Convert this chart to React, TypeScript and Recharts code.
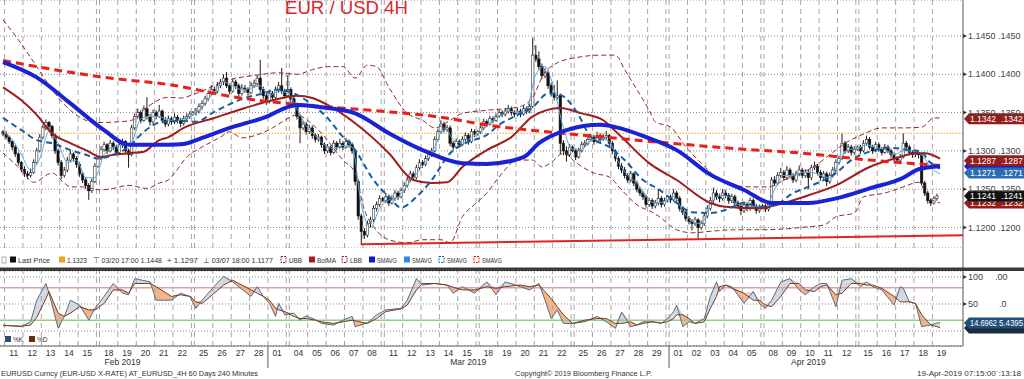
import React from 'react';
import { ComposedChart, Bar, Line, Area, XAxis, YAxis, CartesianGrid, ReferenceLine } from 'recharts';

type OHLC = [number, number, number, number];

const FONT = "'Liberation Sans', Arial, Helvetica, sans-serif";

// ---------- time axis (slot = one 4H bar; Sunday = one bar) ----------
const dayLabels = ['11','12','13','14','15','18','19','20','21','22','25','26','27','28','01','04','05','06','07','08','11','12','13','14','15','18','19','20','21','22','25','26','27','28','29','01','02','03','04','05','08','09','10','11','12','15','16','17','18','19'];
const dayStarts = [1,7,13,19,25,32,38,44,50,56,63,69,75,81,87,94,100,106,112,118,125,131,137,143,149,156,162,168,174,180,187,193,199,205,211,218,224,230,236,242,249,255,261,267,273,280,286,292,298,304];
const fridayEnds = [31,62,93,124,155,186,217,248,279];
const monthLabels = ['Feb 2019','Mar 2019','Apr 2019'];
const monthSlots = [39.5, 152.4, 263.5];
const monthBreaks = [87, 218];

// ---------- price bars, pips of 1.1xxx : [open, high, low, close] ----------
const weekFeb10: OHLC[] = [
  [1325,1327,1319,1322],[1322,1326,1315,1318],[1318,1320,1309,1312],[1312,1314,1301,1305],[1305,1308,1292,1296],[1296,1298,1281,1285],
  [1285,1287,1272,1276],[1276,1280,1266,1270],[1270,1274,1263,1268],[1268,1277,1265,1272],[1272,1289,1270,1285],[1285,1304,1283,1300],
  [1300,1322,1298,1318],[1318,1334,1315,1330],[1330,1341,1327,1337],[1337,1339,1328,1332],[1332,1334,1316,1320],[1320,1323,1296,1300],
  [1300,1303,1281,1285],[1285,1288,1263,1268],[1268,1279,1265,1275],[1275,1292,1272,1288],[1288,1301,1285,1296],[1296,1298,1286,1290],
  [1290,1293,1278,1282],[1282,1285,1266,1270],[1270,1273,1258,1262],[1262,1266,1250,1255],[1255,1258,1236,1248],[1248,1264,1245,1260],
  [1260,1284,1258,1280],
];
const weekFeb17: OHLC[] = [
  [1280,1293,1278,1290],[1290,1306,1288,1302],[1302,1312,1299,1308],[1308,1310,1296,1300],[1300,1314,1298,1310],[1310,1313,1301,1305],
  [1305,1308,1294,1298],[1298,1312,1296,1308],[1308,1316,1304,1312],[1312,1314,1296,1300],[1300,1303,1278,1295],[1295,1334,1293,1330],
  [1330,1349,1327,1345],[1345,1355,1342,1350],[1350,1353,1336,1340],[1340,1359,1338,1355],[1355,1370,1341,1345],[1345,1348,1333,1338],
  [1338,1354,1335,1350],[1350,1353,1341,1345],[1345,1360,1343,1352],[1352,1354,1336,1340],[1340,1344,1331,1335],[1335,1346,1332,1342],
  [1342,1345,1334,1338],[1338,1349,1335,1344],[1344,1347,1336,1340],[1340,1343,1331,1336],[1336,1346,1333,1342],[1342,1349,1339,1345],
  [1345,1352,1342,1348],
];
const weekFeb24: OHLC[] = [
  [1348,1352,1346,1350],[1350,1356,1346,1352],[1352,1362,1349,1358],[1358,1366,1354,1362],[1362,1372,1359,1368],[1368,1379,1365,1375],
  [1375,1386,1372,1380],[1380,1384,1374,1378],[1378,1390,1375,1385],[1385,1394,1382,1390],[1390,1400,1386,1395],[1395,1403,1382,1385],
  [1385,1388,1374,1378],[1378,1394,1376,1390],[1390,1393,1381,1385],[1385,1388,1371,1375],[1375,1387,1372,1382],[1382,1386,1376,1380],
  [1380,1383,1372,1376],[1376,1390,1374,1385],[1385,1393,1382,1388],[1388,1399,1385,1395],[1395,1419,1376,1380],[1380,1384,1368,1372],
  [1372,1375,1360,1365],[1365,1380,1362,1375],[1375,1378,1365,1370],[1370,1384,1367,1380],[1380,1390,1376,1385],[1385,1408,1374,1378],
  [1378,1381,1368,1372],
];
const weekMar3: OHLC[] = [
  [1372,1399,1370,1380],[1380,1383,1364,1368],[1368,1371,1356,1360],[1360,1363,1341,1345],[1345,1348,1310,1330],[1330,1339,1327,1335],
  [1335,1338,1321,1325],[1325,1334,1322,1330],[1330,1333,1316,1320],[1320,1323,1311,1315],[1315,1322,1312,1318],[1318,1320,1304,1308],
  [1308,1311,1296,1300],[1300,1309,1297,1305],[1305,1307,1294,1298],[1298,1314,1296,1310],[1310,1313,1301,1305],[1305,1316,1303,1310],
  [1310,1313,1301,1305],[1305,1317,1303,1312],[1312,1315,1304,1308],[1308,1311,1296,1300],[1300,1302,1255,1260],[1260,1263,1210,1215],
  [1215,1218,1177,1195],[1195,1199,1185,1190],[1190,1209,1187,1205],[1205,1214,1200,1210],[1210,1229,1207,1225],[1225,1234,1221,1230],
  [1230,1242,1227,1238],
];
const weekMar10: OHLC[] = [
  [1238,1240,1233,1235],[1235,1245,1232,1240],[1240,1243,1228,1232],[1232,1242,1230,1238],[1238,1249,1235,1245],[1245,1248,1236,1240],
  [1240,1252,1238,1248],[1248,1259,1245,1255],[1255,1266,1252,1262],[1262,1274,1259,1270],[1270,1273,1261,1265],[1265,1282,1263,1278],
  [1278,1289,1275,1285],[1285,1288,1278,1282],[1282,1294,1280,1290],[1290,1299,1287,1295],[1295,1304,1292,1300],[1300,1319,1298,1315],
  [1315,1329,1312,1325],[1325,1340,1322,1335],[1335,1338,1324,1328],[1328,1334,1325,1330],[1330,1333,1306,1310],[1310,1313,1301,1305],
  [1305,1316,1303,1312],[1312,1315,1304,1308],[1308,1319,1306,1315],[1315,1324,1312,1320],[1320,1323,1308,1312],[1312,1329,1310,1325],
  [1325,1328,1318,1322],
];
const weekMar17: OHLC[] = [
  [1322,1327,1320,1325],[1325,1334,1322,1330],[1330,1342,1327,1338],[1338,1341,1331,1335],[1335,1346,1333,1342],[1342,1345,1336,1340],
  [1340,1349,1338,1345],[1345,1354,1343,1350],[1350,1353,1344,1348],[1348,1356,1345,1352],[1352,1360,1349,1355],[1355,1358,1346,1350],
  [1350,1353,1344,1348],[1348,1356,1345,1352],[1352,1355,1344,1348],[1348,1359,1346,1355],[1355,1358,1348,1352],[1352,1362,1349,1358],
  [1358,1448,1356,1425],[1425,1438,1416,1420],[1420,1430,1406,1410],[1410,1414,1394,1398],[1398,1408,1395,1402],[1402,1405,1381,1385],
  [1385,1389,1371,1375],[1375,1386,1366,1370],[1370,1392,1367,1372],[1372,1375,1296,1310],[1310,1314,1294,1300],[1300,1306,1286,1295],
  [1295,1309,1292,1305],
];
const weekMar24: OHLC[] = [
  [1305,1307,1298,1300],[1300,1303,1288,1292],[1292,1304,1290,1300],[1300,1312,1298,1308],[1308,1314,1305,1310],[1310,1319,1307,1315],
  [1315,1322,1312,1318],[1318,1321,1308,1312],[1312,1325,1310,1320],[1320,1323,1311,1315],[1315,1322,1313,1318],[1318,1326,1315,1320],
  [1320,1322,1306,1310],[1310,1313,1296,1300],[1300,1302,1286,1290],[1290,1293,1276,1280],[1280,1284,1271,1275],[1275,1279,1264,1268],
  [1268,1271,1258,1262],[1262,1274,1259,1270],[1270,1272,1254,1258],[1258,1261,1246,1250],[1250,1253,1241,1245],[1245,1248,1236,1240],
  [1240,1243,1226,1230],[1230,1239,1227,1235],[1235,1238,1224,1228],[1228,1236,1225,1232],[1232,1250,1229,1238],[1238,1241,1226,1230],
  [1230,1239,1227,1235],
];
const weekMar31: OHLC[] = [
  [1235,1242,1233,1240],[1240,1243,1232,1236],[1236,1250,1234,1245],[1245,1248,1234,1238],[1238,1241,1221,1225],[1225,1228,1216,1220],
  [1220,1223,1208,1212],[1212,1215,1204,1208],[1208,1211,1196,1205],[1205,1214,1202,1210],[1210,1212,1186,1200],[1200,1209,1197,1205],
  [1205,1219,1202,1215],[1215,1229,1212,1225],[1225,1240,1222,1235],[1235,1252,1232,1245],[1245,1249,1236,1240],[1240,1244,1233,1238],
  [1238,1250,1235,1245],[1245,1249,1238,1242],[1242,1245,1231,1235],[1235,1244,1232,1240],[1240,1243,1228,1232],[1232,1235,1224,1228],
  [1228,1231,1216,1222],[1222,1234,1219,1230],[1230,1233,1221,1225],[1225,1239,1222,1235],[1235,1238,1224,1228],[1228,1231,1218,1222],
  [1222,1230,1219,1226],
];
const weekApr7: OHLC[] = [
  [1226,1231,1224,1228],[1228,1231,1220,1224],[1224,1234,1221,1230],[1230,1266,1228,1262],[1262,1267,1254,1258],[1258,1272,1255,1268],
  [1268,1278,1265,1272],[1272,1275,1261,1265],[1265,1280,1262,1275],[1275,1278,1264,1268],[1268,1271,1258,1262],[1262,1274,1259,1270],
  [1270,1281,1267,1275],[1275,1278,1264,1268],[1268,1276,1265,1272],[1272,1275,1250,1265],[1265,1282,1262,1278],[1278,1286,1275,1280],
  [1280,1283,1268,1272],[1272,1275,1261,1265],[1265,1274,1262,1270],[1270,1273,1254,1260],[1260,1272,1257,1268],[1268,1279,1265,1275],
  [1275,1289,1272,1285],[1285,1294,1282,1290],[1290,1323,1288,1310],[1310,1313,1296,1300],[1300,1309,1297,1305],[1305,1308,1294,1298],
  [1298,1306,1295,1302],
];
const weekApr14: OHLC[] = [
  [1302,1307,1300,1305],[1305,1308,1296,1300],[1300,1314,1298,1310],[1310,1320,1307,1315],[1315,1318,1302,1305],[1305,1308,1296,1300],
  [1300,1312,1298,1308],[1308,1311,1299,1302],[1302,1305,1294,1298],[1298,1309,1296,1305],[1305,1308,1297,1300],[1300,1303,1291,1295],
  [1295,1298,1286,1290],[1290,1293,1284,1288],[1288,1296,1285,1292],[1292,1323,1290,1310],[1310,1313,1301,1305],[1305,1308,1294,1298],
  [1298,1301,1291,1295],[1295,1302,1292,1298],[1298,1301,1290,1295],[1295,1297,1255,1258],[1258,1261,1241,1245],[1245,1248,1231,1235],
  [1235,1238,1228,1232],[1232,1241,1230,1238],[1238,1244,1235,1241],
];

const smaRedDashed = [[0,1418],[33,1396],[55,1386],[76,1370],[98,1360],[120,1353],[141,1345],[163,1331],[170,1328],[196,1318],[218,1310],[239,1303],[261,1297],[283,1288],[306,1281]];
const smaBlueThick = [[0,1416],[11,1396],[22,1362],[33,1327],[41,1308],[54,1308],[59,1309],[65,1317],[74,1330],[85,1343],[96,1360],[106,1356],[115,1349],[126,1323],[137,1301],[150,1284],[158,1283],[170,1292],[175,1310],[184,1327],[195,1334],[200,1331],[210,1318],[220,1301],[231,1269],[242,1249],[251,1232],[263,1232],[272,1238],[283,1251],[294,1265],[299,1276],[306,1280]];
const bolMA = [[0,1383],[6,1366],[11,1347],[16,1323],[22,1310],[27,1301],[32,1292],[36,1295],[41,1297],[46,1299],[51,1314],[54,1318],[59,1330],[69,1343],[79,1356],[88,1366],[96,1372],[101,1369],[106,1360],[115,1336],[126,1297],[134,1262],[140,1258],[145,1259],[150,1279],[158,1301],[166,1318],[173,1345],[182,1356],[189,1349],[196,1340],[202,1318],[211,1284],[220,1262],[231,1232],[236,1227],[247,1225],[255,1232],[263,1242],[272,1255],[283,1279],[292,1291],[298,1297],[301,1297],[306,1290]];
const upperBB = [[0,1471],[5,1445],[11,1410],[16,1380],[22,1353],[27,1340],[30,1337],[38,1338],[42,1340],[47,1357],[54,1370],[58,1369],[63,1375],[74,1393],[83,1399],[90,1402],[96,1400],[101,1406],[106,1410],[111,1410],[115,1395],[119,1412],[122,1410],[126,1383],[132,1349],[137,1340],[141,1330],[146,1340],[150,1349],[158,1353],[168,1357],[173,1370],[176,1396],[181,1415],[189,1423],[195,1425],[200,1425],[203,1406],[207,1380],[211,1353],[213,1338],[218,1331],[223,1305],[228,1284],[236,1258],[244,1253],[250,1253],[255,1262],[260,1270],[265,1280],[270,1295],[275,1310],[281,1322],[287,1330],[294,1330],[300,1331],[304,1343],[306,1343]];
const lowerBB = [[0,1297],[6,1275],[10,1259],[16,1271],[20,1258],[22,1253],[26,1253],[32,1249],[36,1251],[41,1255],[47,1251],[51,1258],[54,1262],[56,1271],[60,1292],[65,1305],[71,1318],[74,1325],[78,1317],[83,1321],[88,1330],[92,1340],[96,1347],[100,1338],[104,1323],[111,1288],[115,1271],[118,1223],[121,1201],[126,1184],[132,1180],[137,1184],[143,1184],[146,1180],[150,1214],[154,1230],[158,1245],[162,1266],[168,1288],[173,1288],[176,1279],[179,1285],[183,1297],[187,1285],[193,1271],[198,1266],[202,1249],[208,1227],[211,1222],[214,1215],[220,1197],[225,1193],[231,1195],[239,1197],[247,1197],[255,1198],[263,1201],[268,1203],[272,1214],[278,1219],[281,1240],[288,1245],[294,1253],[299,1259],[302,1240],[306,1232]];
const smaBlueDashed = [[0,1343],[6,1327],[11,1314],[16,1310],[22,1301],[27,1295],[31,1290],[36,1295],[41,1305],[46,1325],[52,1338],[58,1339],[63,1338],[69,1351],[79,1369],[85,1375],[90,1380],[96,1373],[101,1360],[106,1343],[110,1323],[115,1301],[121,1262],[126,1240],[130,1226],[135,1240],[140,1262],[146,1297],[151,1310],[158,1321],[162,1334],[167,1345],[173,1357],[178,1375],[182,1373],[187,1353],[192,1318],[198,1305],[203,1288],[209,1262],[214,1250],[220,1232],[225,1220],[231,1219],[236,1223],[242,1232],[247,1227],[252,1229],[258,1245],[263,1253],[272,1271],[277,1288],[283,1299],[290,1304],[296,1301],[300,1299],[302,1288],[306,1277]];
const smaLightBlue = [[0,1325],[3,1315],[6,1295],[9,1275],[12,1290],[15,1325],[18,1310],[21,1285],[24,1288],[27,1265],[30,1265],[33,1295],[36,1305],[39,1307],[42,1312],[45,1342],[48,1345],[51,1345],[54,1340],[57,1340],[60,1343],[63,1350],[66,1362],[69,1377],[72,1390],[75,1385],[78,1380],[81,1382],[84,1385],[87,1372],[90,1378],[93,1375],[96,1355],[99,1333],[102,1320],[105,1308],[108,1303],[111,1307],[114,1305],[117,1230],[120,1200],[123,1225],[126,1236],[129,1240],[132,1255],[135,1270],[138,1285],[141,1305],[144,1330],[147,1315],[150,1310],[153,1318],[156,1325],[159,1337],[162,1346],[165,1352],[168,1350],[171,1355],[174,1400],[177,1410],[180,1380],[183,1330],[186,1302],[189,1302],[192,1314],[195,1316],[198,1312],[201,1285],[204,1268],[207,1258],[210,1240],[213,1232],[216,1234],[219,1240],[222,1222],[225,1208],[228,1205],[231,1230],[234,1242],[237,1240],[240,1230],[243,1228],[246,1227],[249,1226],[252,1250],[255,1268],[258,1268],[261,1272],[264,1272],[267,1268],[270,1265],[273,1285],[276,1302],[279,1303],[282,1308],[285,1304],[288,1302],[291,1295],[294,1300],[297,1300],[300,1295],[303,1278],[306,1270]];
const horizontalLevel = 1323;
const supportLine = [[117, 1178], [314, 1190]];
const priceTicks = [1200, 1250, 1300, 1350, 1400, 1450];
const priceTags = [1232, 1241, 1280, 1271, 1287, 1342];

// ---------- stochastic ----------
const stochSlots = [0,6,9,11,14,15,18,20,22,25,28,30,33,36,39,41,43,48,50,55,58,61,63,65,69,72,75,77,81,83,85,87,89,90,92,95,97,99,102,104,108,111,114,115,119,122,125,130,132,135,137,141,145,147,150,154,158,161,164,169,172,175,177,179,181,183,186,190,194,197,200,202,205,207,209,212,215,217,219,220,222,224,226,229,231,233,234,236,238,242,245,247,249,251,254,257,260,262,265,267,269,272,274,277,280,282,284,287,291,293,294,296,298,300,303,305,306];
const stochK = [11,8,17,57,88,70,5,27,57,48,20,42,64,88,70,67,97,91,57,57,70,64,42,57,83,101,91,82,64,82,64,51,27,51,30,33,20,28,21,14,11,20,27,8,15,30,39,42,57,97,85,88,85,70,82,70,91,67,91,82,76,88,57,23,39,14,14,17,27,17,5,35,8,11,17,17,14,23,36,48,8,17,14,23,64,91,73,85,82,51,73,51,42,57,91,97,76,67,82,88,88,45,94,97,82,91,82,76,48,82,79,54,51,8,11,15,15];
const stochD = [10,9,11,25,60,73,33,27,33,45,39,39,51,76,76,70,88,88,82,64,67,64,54,51,70,85,94,88,76,70,64,57,42,39,36,27,23,23,20,17,14,17,20,19,14,23,36,41,48,76,88,88,85,81,76,76,82,79,82,85,82,85,73,60,45,30,14,20,23,23,14,14,17,11,14,17,15,17,23,30,30,23,14,17,42,64,82,85,79,70,57,57,48,45,64,88,88,76,73,82,85,67,70,88,88,85,85,79,64,54,54,54,51,30,11,8,6];
const stochTicks = [0, 50, 100];
const stochLevels = [80, 20];
const lastK = 14.6962;
const lastD = 5.4395;

// ---------- derived rows for the library ----------
const X_DOMAIN: [number, number] = [-0.5, 314];
const allBars: OHLC[] = [...weekFeb10, ...weekFeb17, ...weekFeb24, ...weekMar3, ...weekMar10, ...weekMar17, ...weekMar24, ...weekMar31, ...weekApr7, ...weekApr14];
const candleRows = allBars.map(([o, h, l, c], i) => ({ x: i + 0.5, o, h, l, c, range: [l, h] }));
const pts = (arr: number[][]) => arr.map(([s, v]) => ({ x: s + 0.5, v }));
const stochRows = stochSlots.map((s, i) => {
  const k = stochK[i], d = stochD[i], hi = Math.max(k, d);
  return { x: s + 0.5, k, d, kAbove: [d, hi], dAbove: [k, hi] };
});
const gridSlots = [...dayStarts, ...fridayEnds].sort((a, b) => a - b);
const dayCenters = dayStarts.map((s) => s + 3);
const bottomTicks = [...dayCenters, ...monthBreaks, ...monthSlots];

const fmt = (v: number) => (1 + v / 10000).toFixed(4);

const Candle = (props: any) => {
  const { x, y, width, height, payload } = props;
  if (!payload || x == null || y == null) return null;
  const top = Math.min(y, y + height);
  const bot = Math.max(y, y + height);
  const { o, h, l, c } = payload;
  const k = (bot - top) / (h - l || 1);
  const yo = top + (h - o) * k;
  const yc = top + (h - c) * k;
  const cx = x + width / 2;
  const up = c >= o;
  const bt = Math.min(yo, yc);
  const bh = Math.max(1, Math.abs(yc - yo));
  return (
    <g>
      <line x1={cx} x2={cx} y1={top} y2={bot} stroke="#1a1a1a" strokeWidth={1} />
      <rect x={cx - 1.2} y={bt} width={2.4} height={bh} fill={up ? '#ffffff' : '#111111'} stroke={up ? '#333' : '#111'} strokeWidth={0.6} />
    </g>
  );
};

const PriceTick = (props: any) => {
  const { x, y, payload } = props;
  const t = fmt(payload.value);
  return (
    <g>
      <path d={`M${x} ${y - 2} L${x + 4} ${y} L${x} ${y + 2} Z`} fill="#333" />
      <text x={x + 5} y={y + 3.2} fontSize={9} fill="#444" fontFamily={FONT}>{t}</text>
      <text x={x + 35} y={y + 3.2} fontSize={9} fill="#444" fontFamily={FONT}>{t.slice(1)}</text>
    </g>
  );
};

const StochTick = (props: any) => {
  const { x, y, payload } = props;
  const v = payload.value;
  if (v === 0) return null;
  return (
    <g>
      <path d={`M${x} ${y - 2} L${x + 4} ${y} L${x} ${y + 2} Z`} fill="#333" />
      <text x={x + 5} y={y + 3.2} fontSize={9} fill="#444" fontFamily={FONT}>{String(v)}</text>
      <text x={x + (v === 100 ? 32 : 36)} y={y + 3.2} fontSize={9} fill="#444" fontFamily={FONT}>{v === 100 ? '.00' : '.0'}</text>
    </g>
  );
};

const BottomTick = (props: any) => {
  const { x, y, payload } = props;
  const v = payload.value;
  const di = dayCenters.indexOf(v);
  if (di >= 0) {
    return <text x={x} y={y + 10} fontSize={8.5} fill="#333" textAnchor="middle" fontFamily={FONT}>{dayLabels[di]}</text>;
  }
  const mi = monthSlots.indexOf(v);
  if (mi >= 0) {
    return <text x={x} y={y + 19} fontSize={8.5} fill="#333" textAnchor="middle" fontFamily={FONT}>{monthLabels[mi]}</text>;
  }
  return <line x1={x} x2={x} y1={y} y2={y + 22} stroke="#777" strokeWidth={1.2} />;
};

const makeTag = (bg: string, t1: string, t2: string, w1 = 26, w2 = 22) => (props: any) => {
  const vb = props.viewBox || {};
  const x = (vb.x ?? 0) + (vb.width ?? 0);
  const y = vb.y ?? 0;
  return (
    <g>
      <path d={`M${x + 1} ${y} L${x + 6} ${y - 5.5} L1024 ${y - 5.5} L1024 ${y + 5.5} L${x + 6} ${y + 5.5} Z`} fill={bg} />
      {t1 && <text x={x + 7} y={y + 3.2} fontSize={8.5} fill="#fff" fontFamily={FONT} textLength={w1} lengthAdjust="spacingAndGlyphs">{t1}</text>}
      {t2 && <text x={x + 60 - w2} y={y + 3.2} fontSize={8.5} fill="#fff" fontFamily={FONT} textLength={w2} lengthAdjust="spacingAndGlyphs">{t2}</text>}
    </g>
  );
};

const tagColor: Record<number, string> = { 1232: '#931c1c', 1241: '#111111', 1280: '#1a1ad0', 1271: '#2a6db5', 1287: '#931c1c', 1342: '#931c1c' };
const tagHidden: Record<number, boolean> = { 1280: true };

const legendItems = [
  { x: 10, kind: 'sq', color: '#111', text: 'Last Price', w: 32 },
  { x: 59, kind: 'sq', color: '#f0a020', text: '1.1323', w: 20 },
  { x: 93, kind: 'txt', color: '#333', text: '⊤ 03/20 17:00 1.1448', w: 69 },
  { x: 167, kind: 'txt', color: '#333', text: '+ 1.1297', w: 31 },
  { x: 203, kind: 'txt', color: '#333', text: '⊥ 03/07 18:00 1.1177', w: 70 },
  { x: 281, kind: 'dash', color: '#8c2b2b', text: 'UBB', w: 13 },
  { x: 309, kind: 'sq', color: '#a01c2c', text: 'BolMA', w: 19 },
  { x: 342, kind: 'dash', color: '#8c2b2b', text: 'LBB', w: 12 },
  { x: 369, kind: 'sq', color: '#1414c8', text: 'SMAVG', w: 20 },
  { x: 404, kind: 'sq', color: '#2a8ae6', text: 'SMAVG', w: 20 },
  { x: 439, kind: 'dash', color: '#1b5c9e', text: 'SMAVG', w: 20 },
  { x: 474, kind: 'dash', color: '#e8201c', text: 'SMAVG', w: 20 },
];

export default function App() {
  return (
    <div style={{ position: 'absolute', left: 0, top: 0, width: 1024, height: 379, background: '#fff', overflow: 'hidden', fontFamily: FONT }}>
      <div style={{ position: 'absolute', left: 0, top: 0 }}>
        <ComposedChart width={1024} height={248} data={candleRows} margin={{ top: 0, right: 0, bottom: 0, left: 0 }}>
          <CartesianGrid vertical={false} stroke="#8a8a8a" strokeDasharray="1 2" />
          <XAxis dataKey="x" type="number" domain={X_DOMAIN} allowDataOverflow hide />
          <YAxis orientation="right" width={61} domain={[1173.2, 1497]} allowDataOverflow ticks={priceTicks} interval={0} tick={<PriceTick />} tickSize={0} tickMargin={0} tickLine={false} axisLine={false} />
          {gridSlots.map((s, i) => (
            <ReferenceLine key={'g' + i} x={s} stroke="#a5a5a5" strokeDasharray="5 4" />
          ))}
          <ReferenceLine y={horizontalLevel} stroke="#f0a020" strokeDasharray="1.5 1.5" />
          <ReferenceLine segment={[{ x: supportLine[0][0] + 0.5, y: supportLine[0][1] }, { x: supportLine[1][0], y: supportLine[1][1] }]} stroke="#e02424" strokeWidth={2} ifOverflow="visible" />
          <Line data={pts(upperBB)} dataKey="v" type="monotone" dot={false} activeDot={false} stroke="#8c2b2b" strokeWidth={1} strokeDasharray="5 3" isAnimationActive={false} />
          <Line data={pts(lowerBB)} dataKey="v" type="monotone" dot={false} activeDot={false} stroke="#8c2b2b" strokeWidth={1} strokeDasharray="5 3" isAnimationActive={false} />
          <Line data={pts(smaLightBlue)} dataKey="v" type="monotone" dot={false} activeDot={false} stroke="#5aaae6" strokeWidth={1} isAnimationActive={false} />
          <Bar dataKey="range" barSize={3} shape={(p: any) => <Candle {...p} />} activeBar={false} isAnimationActive={false} />
          <Line data={pts(bolMA)} dataKey="v" type="monotone" dot={false} activeDot={false} stroke="#a01c1c" strokeWidth={2} isAnimationActive={false} />
          <Line data={pts(smaBlueDashed)} dataKey="v" type="monotone" dot={false} activeDot={false} stroke="#1b5c9e" strokeWidth={2} strokeDasharray="6 4" isAnimationActive={false} />
          <Line data={pts(smaRedDashed)} dataKey="v" type="monotone" dot={false} activeDot={false} stroke="#e8201c" strokeWidth={3} strokeDasharray="8 5" isAnimationActive={false} />
          <Line data={pts(smaBlueThick)} dataKey="v" type="monotone" dot={false} activeDot={false} stroke="#1a22d4" strokeWidth={4} isAnimationActive={false} />
          {priceTags.map((v) => (
            <ReferenceLine key={'t' + v} y={v} stroke="none" label={makeTag(tagColor[v], tagHidden[v] ? '' : fmt(v), tagHidden[v] ? '' : fmt(v).slice(1))} />
          ))}
        </ComposedChart>
      </div>

      <div style={{ position: 'absolute', left: 0, top: 271 }}>
        <ComposedChart width={1024} height={99} data={stochRows} margin={{ top: 0, right: 0, bottom: 0, left: 0 }}>
          <CartesianGrid vertical={false} stroke="#8a8a8a" strokeDasharray="1 2" />
          <XAxis dataKey="x" type="number" domain={X_DOMAIN} allowDataOverflow ticks={bottomTicks} interval={0} tick={<BottomTick />} tickSize={0} tickMargin={0} tickLine={false} axisLine={{ stroke: '#666' }} height={24} />
          <YAxis orientation="right" width={61} domain={[-27.8, 111.1]} allowDataOverflow ticks={stochTicks} interval={0} tick={<StochTick />} tickSize={0} tickMargin={0} tickLine={false} axisLine={false} />
          {gridSlots.map((s, i) => (
            <ReferenceLine key={'sg' + i} x={s} stroke="#a5a5a5" strokeDasharray="5 4" />
          ))}
          <ReferenceLine y={stochLevels[0]} stroke="#d9a3a3" strokeWidth={1.5} />
          <ReferenceLine y={stochLevels[1]} stroke="#8fd08f" strokeWidth={1.5} />
          <Area dataKey="dAbove" type="linear" stroke="none" fill="#f6b48a" fillOpacity={1} dot={false} activeDot={false} isAnimationActive={false} />
          <Area dataKey="kAbove" type="linear" stroke="none" fill="#d3d9e1" fillOpacity={1} dot={false} activeDot={false} isAnimationActive={false} />
          <Line dataKey="k" type="linear" dot={false} activeDot={false} stroke="#5b6b86" strokeWidth={1} isAnimationActive={false} />
          <Line dataKey="d" type="linear" dot={false} activeDot={false} stroke="#7a3a20" strokeWidth={1} isAnimationActive={false} />
          <ReferenceLine y={lastD} stroke="none" label={makeTag('#1b2a3c', '', '')} />
          <ReferenceLine y={lastK} stroke="none" label={makeTag('#1f4e79', lastK.toFixed(4), lastD.toFixed(4), 27, 24)} />
        </ComposedChart>
      </div>

      <svg width={1024} height={379} style={{ position: 'absolute', left: 0, top: 0, pointerEvents: 'none' }}>
        <text x={285} y={14} fontSize={18} fill="#d82828" fontFamily={FONT} textLength={123} lengthAdjust="spacingAndGlyphs">EUR / USD 4H</text>
        <line x1={963} x2={963} y1={0} y2={346} stroke="#555" strokeWidth={1} />
        <rect x={0} y={267.5} width={1024} height={3.5} fill="#3a3a3a" />
        <rect x={2} y={257} width={4} height={6} fill="none" stroke="#999" strokeWidth={0.8} />
        {legendItems.map((it, i) => (
          <g key={'l' + i}>
            {it.kind === 'sq' && <rect x={it.x} y={256.5} width={6} height={6} fill={it.color} />}
            {it.kind === 'dash' && <rect x={it.x} y={256.5} width={5} height={6} fill="none" stroke={it.color} strokeDasharray="2 1" strokeWidth={1} />}
            <text x={it.kind === 'txt' ? it.x : it.x + 8} y={263} fontSize={7.5} fill="#333" fontFamily={FONT} textLength={it.w} lengthAdjust="spacingAndGlyphs">{it.text}</text>
          </g>
        ))}
        <rect x={5} y={336} width={6} height={6} fill="#2a4d7a" />
        <text x={13} y={342} fontSize={6.5} fill="#333" fontFamily={FONT}>%K</text>
        <rect x={29} y={336} width={6} height={6} fill="#6b2a10" />
        <text x={37} y={342} fontSize={6.5} fill="#333" fontFamily={FONT}>%D</text>
        <text x={1} y={376} fontSize={8} fill="#333" fontFamily={FONT} textLength={257} lengthAdjust="spacingAndGlyphs">EURUSD Curncy (EUR-USD X-RATE) AT_EURUSD_4H 60 Days 240 Minutes</text>
        <text x={515} y={376} fontSize={8} fill="#333" fontFamily={FONT} textLength={137} lengthAdjust="spacingAndGlyphs">Copyright© 2019 Bloomberg Finance L.P.</text>
        <text x={917} y={376} fontSize={8} fill="#333" fontFamily={FONT} textLength={104} lengthAdjust="spacingAndGlyphs">19-Apr-2019 07:15:00`:13:18</text>
      </svg>
    </div>
  );
}
